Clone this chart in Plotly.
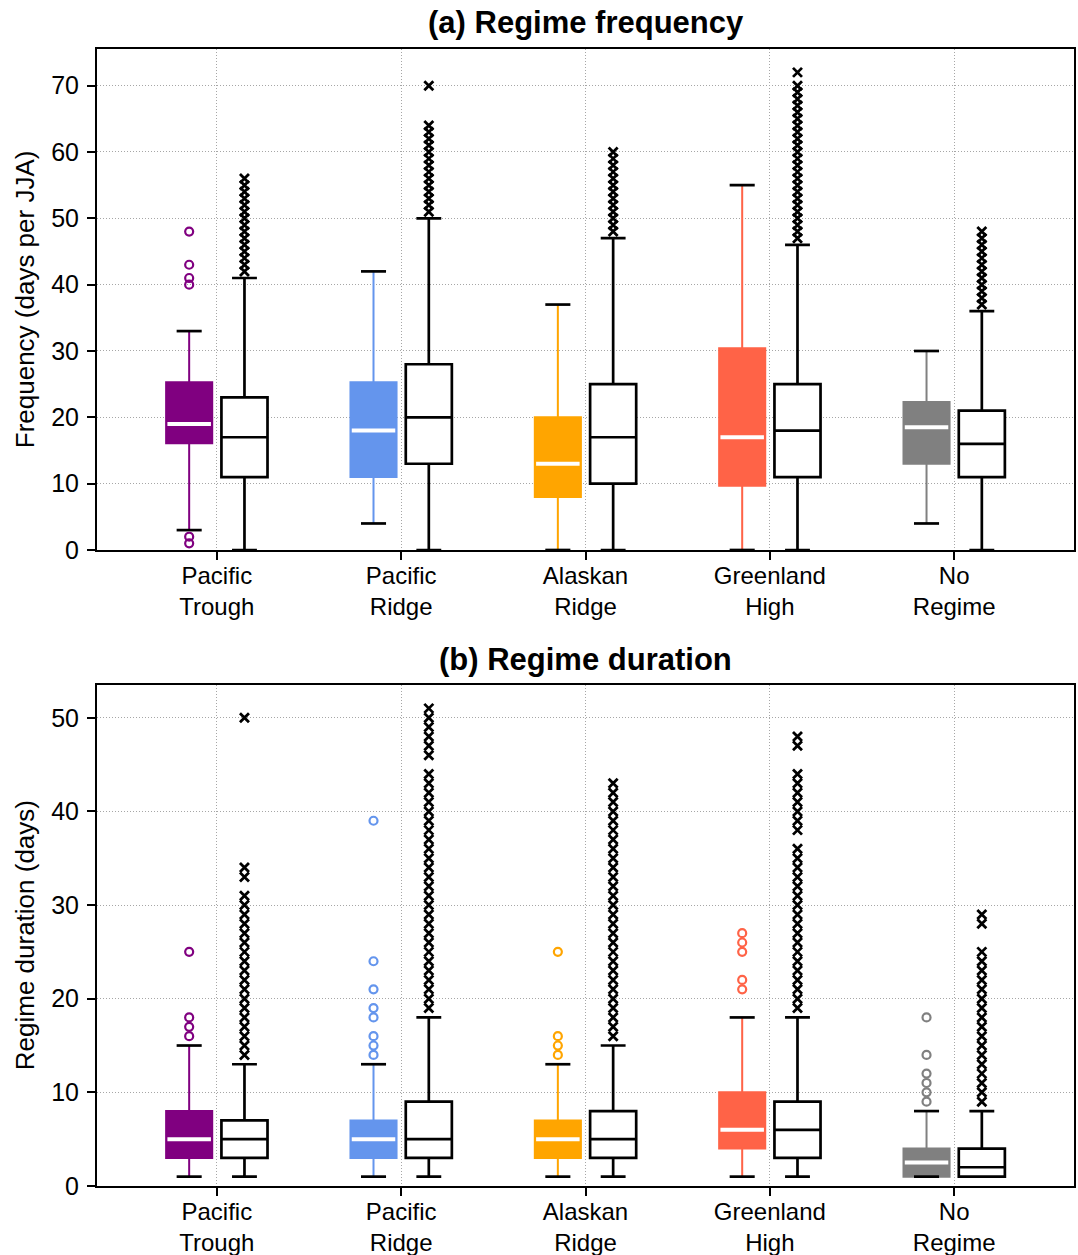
import plotly.graph_objects as go

# ---------------- data ----------------
categories = ["Pacific<br>Trough", "Pacific<br>Ridge", "Alaskan<br>Ridge", "Greenland<br>High", "No<br>Regime"]
colors = ["#800080", "#6495ED", "#FFA500", "#FF6347", "#808080"]
positions = [1, 2, 3, 4, 5]

# (a) Regime frequency — observations (coloured boxes)
freq_obs_q1 = [16.1, 11.0, 8.0, 9.7, 13.0]
freq_obs_med = [19.0, 18.0, 13.0, 17.0, 18.5]
freq_obs_q3 = [25.3, 25.3, 20.0, 30.4, 22.3]
freq_obs_lo = [3, 4, 0, 0, 4]
freq_obs_hi = [33, 42, 37, 55, 30]
freq_obs_out = [[48, 43, 41, 40, 2, 1], [], [], [], []]

# (a) Regime frequency — model ensemble (open boxes)
freq_mod_q1 = [11, 13, 10, 11, 11]
freq_mod_med = [17, 20, 17, 18, 16]
freq_mod_q3 = [23, 28, 25, 25, 21]
freq_mod_lo = [0, 0, 0, 0, 0]
freq_mod_hi = [41, 50, 47, 46, 36]
freq_mod_out = [
    [42, 43, 44, 45, 46, 47, 48, 49, 50, 51, 52, 53, 54, 55, 56],
    [51, 52, 53, 54, 55, 56, 57, 58, 59, 60, 61, 62, 63, 64, 70],
    [48, 49, 50, 51, 52, 53, 54, 55, 56, 57, 58, 59, 60],
    [47, 48, 49, 50, 51, 52, 53, 54, 55, 56, 57, 58, 59, 60, 61, 62, 63, 64, 65, 66, 67, 68, 69, 70, 72],
    [37, 38, 39, 40, 41, 42, 43, 44, 45, 46, 47, 48],
]

# (b) Regime duration — observations
dur_obs_q1 = [3, 3, 3, 4, 1]
dur_obs_med = [5, 5, 5, 6, 2.5]
dur_obs_q3 = [8, 7, 7, 10, 4]
dur_obs_lo = [1, 1, 1, 1, 1]
dur_obs_hi = [15, 13, 13, 18, 8]
dur_obs_out = [
    [16, 17, 18, 25],
    [14, 15, 16, 18, 19, 21, 24, 39],
    [14, 15, 16, 25],
    [21, 22, 25, 26, 27],
    [9, 10, 11, 12, 14, 18],
]

# (b) Regime duration — model ensemble
dur_mod_q1 = [3, 3, 3, 3, 1]
dur_mod_med = [5, 5, 5, 6, 2]
dur_mod_q3 = [7, 9, 8, 9, 4]
dur_mod_lo = [1, 1, 1, 1, 1]
dur_mod_hi = [13, 18, 15, 18, 8]
dur_mod_out = [
    [14, 15, 16, 17, 18, 19, 20, 21, 22, 23, 24, 25, 26, 27, 28, 29, 30, 31, 33, 34, 50],
    [19, 20, 21, 22, 23, 24, 25, 26, 27, 28, 29, 30, 31, 32, 33, 34, 35, 36, 37, 38, 39, 40,
     41, 42, 43, 44, 46, 47, 48, 49, 50, 51],
    [16, 17, 18, 19, 20, 21, 22, 23, 24, 25, 26, 27, 28, 29, 30, 31, 32, 33, 34, 35, 36, 37,
     38, 39, 40, 41, 42, 43],
    [19, 20, 21, 22, 23, 24, 25, 26, 27, 28, 29, 30, 31, 32, 33, 34, 35, 36, 38, 39, 40, 41,
     42, 43, 44, 47, 48],
    [9, 10, 11, 12, 13, 14, 15, 16, 17, 18, 19, 20, 21, 22, 23, 24, 25, 28, 29],
]

titles = ["<b>(a) Regime frequency</b>", "<b>(b) Regime duration</b>"]
ylabels = ["Frequency (days per JJA)", "Regime duration (days)"]
yticks_a = [0, 10, 20, 30, 40, 50, 60, 70]
yticks_b = [0, 10, 20, 30, 40, 50]

# ---------------- style ----------------
FONT = "Liberation Sans, Arial, Helvetica, sans-serif"
W, H = 1078, 1255
OFF = 0.15
BOXW = 0.25
CAPH = 0.068
MEDH = 0.118

fig = go.Figure()


def add_panel(xa, ya, oq1, omed, oq3, olo, ohi, oout, mq1, mmed, mq3, mlo, mhi, mout):
    xo = [p - OFF for p in positions]
    xm = [p + OFF for p in positions]
    # observation boxes (one per colour)
    for i in range(len(positions)):
        fig.add_trace(go.Box(
            x=[xo[i]], q1=[oq1[i]], median=[omed[i]], q3=[oq3[i]],
            lowerfence=[olo[i]], upperfence=[ohi[i]],
            width=BOXW, whiskerwidth=0, boxpoints=False,
            fillcolor=colors[i], line=dict(color=colors[i], width=2),
            xaxis=xa, yaxis=ya, showlegend=False, hoverinfo="skip"))
    # model boxes
    fig.add_trace(go.Box(
        x=xm, q1=mq1, median=mmed, q3=mq3, lowerfence=mlo, upperfence=mhi,
        width=BOXW, whiskerwidth=0.54, boxpoints=False,
        fillcolor="white", line=dict(color="black", width=2.7),
        xaxis=xa, yaxis=ya, showlegend=False, hoverinfo="skip"))
    # black caps for observation whiskers
    cx, cy = [], []
    for i in range(len(positions)):
        for v in (olo[i], ohi[i]):
            cx += [xo[i] - CAPH, xo[i] + CAPH, None]
            cy += [v, v, None]
    fig.add_trace(go.Scatter(x=cx, y=cy, mode="lines", line=dict(color="black", width=2.7),
                             xaxis=xa, yaxis=ya, showlegend=False, hoverinfo="skip"))
    # white medians for observation boxes
    mx, my = [], []
    for i in range(len(positions)):
        mx += [xo[i] - MEDH, xo[i] + MEDH, None]
        my += [omed[i], omed[i], None]
    fig.add_trace(go.Scatter(x=mx, y=my, mode="lines", line=dict(color="white", width=4),
                             xaxis=xa, yaxis=ya, showlegend=False, hoverinfo="skip"))
    # outliers
    for i in range(len(positions)):
        if oout[i]:
            fig.add_trace(go.Scatter(
                x=[xo[i]] * len(oout[i]), y=oout[i], mode="markers",
                marker=dict(symbol="circle-open", size=8, color=colors[i],
                            line=dict(width=2.2, color=colors[i])),
                xaxis=xa, yaxis=ya, showlegend=False, hoverinfo="skip"))
        if mout[i]:
            fig.add_trace(go.Scatter(
                x=[xm[i]] * len(mout[i]), y=mout[i], mode="markers",
                marker=dict(symbol="x-thin", size=9, color="black",
                            line=dict(width=2.8, color="black")),
                xaxis=xa, yaxis=ya, showlegend=False, hoverinfo="skip"))


add_panel("x", "y", freq_obs_q1, freq_obs_med, freq_obs_q3, freq_obs_lo, freq_obs_hi, freq_obs_out,
          freq_mod_q1, freq_mod_med, freq_mod_q3, freq_mod_lo, freq_mod_hi, freq_mod_out)
add_panel("x2", "y2", dur_obs_q1, dur_obs_med, dur_obs_q3, dur_obs_lo, dur_obs_hi, dur_obs_out,
          dur_mod_q1, dur_mod_med, dur_mod_q3, dur_mod_lo, dur_mod_hi, dur_mod_out)

# pixel layout
L, R = 97, 1074
a_top, a_bot = 48.5, 550
b_top, b_bot = 684.5, 1186


def py(p):
    return 1 - p / H


GRID = dict(showgrid=True, gridcolor="#a6a6a6", griddash="1px,2px", gridwidth=1)
common_x = dict(range=[0.35, 5.65], tickvals=positions, ticktext=categories,
                ticks="outside", ticklen=8, tickwidth=1.5, tickcolor="black",
                showline=True, mirror=True, linecolor="black", linewidth=2,
                zeroline=False, tickfont=dict(size=24, color="black"),
                ticklabelstandoff=-5, automargin=False, **GRID)
common_y = dict(ticks="outside", ticklen=8, tickwidth=1.5, tickcolor="black",
                showline=True, mirror=True, linecolor="black", linewidth=2,
                zeroline=False, tickfont=dict(size=25, color="black"),
                ticklabelstandoff=3, automargin=False, **GRID)

fig.update_layout(
    width=W, height=H, template="none",
    paper_bgcolor="white", plot_bgcolor="white",
    font=dict(family=FONT, color="black", size=24),
    margin=dict(l=L, r=W - R, t=0, b=0),
    boxmode="overlay", showlegend=False,
    xaxis=dict(common_x, domain=[0, 1], anchor="y"),
    yaxis=dict(common_y, domain=[py(a_bot), py(a_top)], anchor="x",
               range=[0, 75.6], tickvals=yticks_a),
    xaxis2=dict(common_x, domain=[0, 1], anchor="y2"),
    yaxis2=dict(common_y, domain=[py(b_bot), py(b_top)], anchor="x2",
                range=[0, 53.55], tickvals=yticks_b),
)

# panel titles
fig.add_annotation(text=titles[0], xref="paper", yref="paper", x=0.5, y=py(22),
                   xanchor="center", yanchor="middle", showarrow=False,
                   font=dict(size=31, family=FONT, color="black"))
fig.add_annotation(text=titles[1], xref="paper", yref="paper", x=0.5, y=py(659),
                   xanchor="center", yanchor="middle", showarrow=False,
                   font=dict(size=31, family=FONT, color="black"))
# y-axis titles
xlab = (25 - L) / (R - L)
fig.add_annotation(text=ylabels[0], xref="paper", yref="paper", x=xlab, y=py((a_top + a_bot) / 2),
                   xanchor="center", yanchor="middle", textangle=-90, showarrow=False,
                   font=dict(size=26, family=FONT, color="black"))
fig.add_annotation(text=ylabels[1], xref="paper", yref="paper", x=xlab, y=py((b_top + b_bot) / 2),
                   xanchor="center", yanchor="middle", textangle=-90, showarrow=False,
                   font=dict(size=26, family=FONT, color="black"))

fig.write_html("out.html", config={"displayModeBar": False},
               post_script="document.body.style.margin='0';document.body.style.overflow='hidden';")
